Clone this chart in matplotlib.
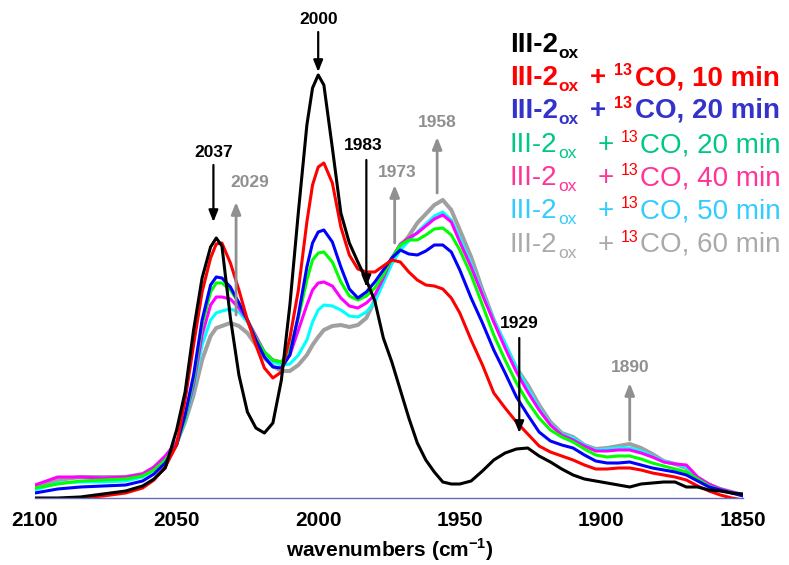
import matplotlib
matplotlib.use("Agg")
import matplotlib.pyplot as plt

plt.rcParams["font.family"] = ["Liberation Sans", "DejaVu Sans"]
plt.rcParams["mathtext.fontset"] = "custom"
plt.rcParams["mathtext.rm"] = "Liberation Sans"
plt.rcParams["mathtext.bf"] = "Liberation Sans:bold"

# ── wavenumber grid (cm-1) shared by all spectra
wn = [2100, 2092, 2084, 2076, 2068, 2062, 2058, 2054, 2050, 2047,
      2044, 2041, 2038, 2036, 2034, 2031, 2028, 2025, 2022, 2019,
      2016, 2013, 2010, 2007, 2004, 2002, 2000, 1998, 1995, 1992,
      1989, 1986, 1983, 1980, 1977, 1974, 1971, 1968, 1965, 1962,
      1959, 1956, 1953, 1950, 1946, 1942, 1938, 1934, 1930, 1926,
      1922, 1918, 1914, 1910, 1906, 1902, 1898, 1894, 1890, 1886,
      1882, 1878, 1874, 1870, 1866, 1862, 1858, 1854, 1850]

# ── absorbance (mOD)
ox_0 = [0, 0, 1, 4, 7, 12, 19, 30, 68, 106,
        168, 220, 251, 260, 252, 180, 123, 86, 70, 65,
        75, 118, 193, 286, 373, 410, 423, 413, 350, 285,
        255, 236, 218, 197, 160, 136, 108, 80, 55, 38,
        26, 16, 14, 14, 17, 27, 38, 45, 49, 50,
        42, 36, 29, 23, 19, 17, 15, 13, 11, 14,
        15, 16, 16, 11, 11, 8, 7, 5, 4]
co_10 = [-10, -6, 0, 2, 5, 10, 18, 31, 53, 98,
         153, 206, 240, 254, 255, 235, 208, 178, 153, 130,
         120, 126, 160, 208, 276, 313, 331, 335, 315, 271,
         243, 229, 226, 226, 232, 238, 236, 226, 218, 213,
         212, 209, 200, 185, 158, 133, 105, 90, 76, 64,
         52, 46, 42, 38, 33, 29, 29, 30, 30, 28,
         25, 23, 21, 18, 12, 7, 3, 0, -2]
co_20 = [5, 9, 11, 12, 13, 17, 24, 35, 53, 83,
         123, 178, 213, 221, 220, 211, 195, 178, 158, 141,
         131, 130, 143, 183, 231, 255, 266, 268, 256, 231,
         209, 200, 206, 216, 228, 240, 248, 244, 243, 247,
         253, 253, 246, 228, 200, 175, 148, 125, 101, 83,
         66, 57, 53, 50, 43, 37, 35, 35, 36, 33,
         30, 28, 26, 23, 17, 11, 8, 5, 2]
co_20b = [10, 14, 17, 18, 19, 22, 28, 38, 53, 80,
          118, 173, 206, 215, 215, 208, 195, 178, 160, 146,
          138, 136, 148, 180, 218, 238, 245, 246, 236, 216,
          202, 198, 202, 210, 223, 240, 253, 258, 258, 263,
          269, 270, 263, 248, 223, 193, 163, 138, 115, 96,
          80, 68, 61, 56, 49, 43, 41, 42, 42, 39,
          35, 32, 29, 26, 19, 12, 8, 5, 3]
co_40 = [13, 21, 21, 20, 21, 24, 31, 42, 56, 80,
         113, 163, 193, 201, 201, 199, 190, 178, 162, 146,
         138, 136, 143, 168, 193, 208, 215, 216, 212, 200,
         192, 190, 195, 203, 220, 240, 254, 260, 265, 272,
         279, 283, 276, 256, 231, 203, 176, 150, 126, 106,
         88, 73, 63, 58, 52, 47, 47, 48, 48, 45,
         41, 36, 34, 33, 21, 14, 9, 6, 3]
co_50 = [8, 15, 16, 16, 17, 21, 28, 40, 54, 78,
         110, 153, 178, 185, 187, 189, 186, 176, 161, 146,
         136, 133, 134, 143, 158, 176, 188, 193, 192, 188,
         182, 181, 186, 196, 215, 234, 248, 257, 266, 274,
         282, 286, 278, 260, 234, 205, 178, 155, 130, 110,
         90, 74, 64, 60, 53, 48, 49, 50, 50, 47,
         42, 37, 34, 31, 20, 13, 9, 6, 3]
co_60 = [10, 18, 21, 21, 21, 24, 30, 41, 55, 76,
         103, 138, 162, 170, 172, 175, 172, 165, 153, 140,
         132, 127, 127, 133, 143, 153, 161, 168, 172, 173,
         171, 173, 180, 198, 218, 237, 251, 262, 275, 284,
         293, 298, 288, 268, 241, 208, 178, 153, 130, 113,
         93, 76, 65, 61, 53, 49, 50, 52, 54, 50,
         44, 37, 34, 30, 19, 13, 9, 6, 3]

times = ["", "10 min", "20 min", "20 min", "40 min", "50 min", "60 min"]
line_colors = ["#000000", "#ff0000", "#0000ff", "#00ff00", "#ff00ff", "#00ffff", "#a0a0a0"]
text_colors = ["#000000", "#ff0000", "#3333cc", "#00c882", "#ff3399", "#33ccff", "#aaaaaa"]

# ── peak markers: value, arrow tail / head (mOD), label position
peak_wn    = [2037, 2029, 2000, 1983, 1973, 1958, 1929, 1890]
peak_col   = ["#000000", "#909090", "#000000", "#000000", "#909090", "#909090", "#000000", "#909090"]
arrow_from = [333, 183, 466, 338, 255, 305, 160, 58]
arrow_to   = [276, 296, 426, 211, 313, 361, 65, 115]
label_wn   = [2037, 2024, 2000, 1984, 1972, 1958, 1929, 1890]
label_y    = [346, 316, 478, 353, 326, 376, 175, 131]

W, H = 789, 565
fig = plt.figure(figsize=(W / 100, H / 100), dpi=100)
ax = fig.add_axes([35 / W, 67 / H, 708 / W, 498 / H])

series = [ox_0, co_10, co_20, co_20b, co_40, co_50, co_60]
widths = [2.2, 2.2, 2.2, 2.2, 2.2, 2.2, 2.9]
for i in reversed(range(len(series))):
    ax.plot(wn, series[i], color=line_colors[i], lw=widths[i],
            solid_joinstyle="round", solid_capstyle="round")

ax.set_xlim(2100, 1850)
ax.set_ylim(0, 498)
ax.set_xticks([2100, 2050, 2000, 1950, 1900, 1850])
ax.set_yticks([])
ax.tick_params(axis="x", length=0, pad=9, labelsize=15)
for lab in ax.get_xticklabels():
    lab.set_fontweight("bold")
for s in ["top", "left", "right"]:
    ax.spines[s].set_visible(False)
ax.spines["bottom"].set_color("#6a6ab4")
ax.spines["bottom"].set_linewidth(1.0)

for i, w in enumerate(peak_wn):
    black = peak_col[i] == "#000000"
    ax.annotate("", xy=(w, arrow_to[i]), xytext=(w, arrow_from[i]),
                arrowprops=dict(arrowstyle="-|>,head_length=0.7,head_width=0.28",
                                color=peak_col[i], lw=1.6 if black else 2.0,
                                shrinkA=0, shrinkB=0))
    ax.text(label_wn[i], label_y[i], str(w), color=peak_col[i], fontsize=12.5,
            fontweight="bold", ha="center", va="center")

fig.text(390 / W, 1 - 550 / H, r"wavenumbers (cm$^{\mathbf{-1}}$)", fontsize=15,
         fontweight="bold", ha="center", va="center")


# ── legend rows built from pieces (sub/superscripts, red 13)
def px(x, y):
    return x / W, 1 - y / H

baselines = [52, 85, 118, 152, 185, 218, 252]
for i, t in enumerate(times):
    bold = i < 3
    fw = "bold" if bold else "normal"
    c = text_colors[i]
    y = baselines[i]
    fig.text(*px(510, y), "III-2", color=c, fontsize=20, fontweight=fw, va="baseline")
    fig.text(*px(558, y + 6), "ox", color=c, fontsize=12.5, fontweight=fw, va="baseline")
    if not t:
        continue
    xp, x13, xco = (590, 614, 635) if bold else (598, 621, 640)
    fig.text(*px(xp, y), "+", color=c, fontsize=20, fontweight=fw, va="baseline")
    fig.text(*px(x13, y - 10), "13", color="#ff0000", fontsize=11.5, fontweight=fw, va="baseline")
    fig.text(*px(xco, y), "CO, " + t, color=c, fontsize=20, fontweight=fw, va="baseline")

fig.savefig("out.png", dpi=100)
